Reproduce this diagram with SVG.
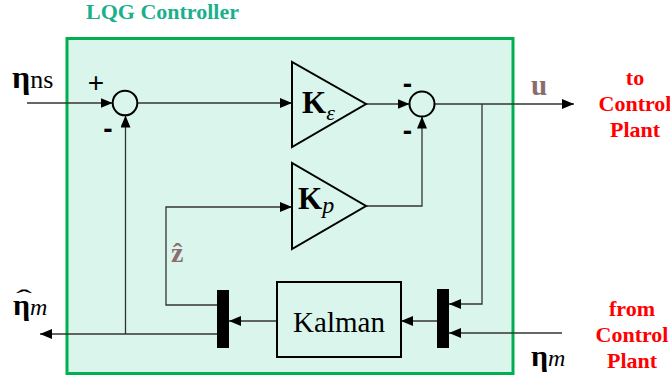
<svg xmlns="http://www.w3.org/2000/svg" width="670" height="381" viewBox="0 0 670 381">
  <defs>
    <marker id="arr" viewBox="0 0 12 10" refX="12" refY="5" markerWidth="12" markerHeight="10" markerUnits="userSpaceOnUse" orient="auto">
      <path d="M0,0 L12,5 L0,10 z" fill="#000"/>
    </marker>
  </defs>
  <style>
    .frame { fill: #D9F5EC; stroke: #00B050; stroke-width: 3; }
    .title { font-weight: bold; font-size: 22px; fill: #1BAF8E; }
    .conn { fill: none; stroke: #333; stroke-width: 1.3; }
    .conn path { marker-end: url(#arr); }
    .sum { fill: #D9F5EC; stroke: #000; stroke-width: 2; }
    .gain { fill: none; stroke: #000; stroke-width: 2; stroke-linejoin: miter; }
    .box { fill: none; stroke: #000; stroke-width: 2; }
    .bar { fill: #000; }
    .serif { fill: #000; }
    .bold { font-weight: bold; }
    .ital { font-style: italic; }
    .red { font-weight: bold; font-size: 22px; fill: #FF0000; text-anchor: middle; }
    .sign { fill: #000; text-anchor: middle; }
    .sig { font-weight: bold; fill: #8A6E6E; }
  </style>

  <rect class="frame" x="67" y="38.5" width="446" height="335"/>
  <text class="title" font-family="Liberation Serif, Times New Roman, serif" x="86" y="19">LQG Controller</text>

  <g id="connectors" class="conn">
    <path d="M27,103 H112.5"/>
    <path d="M137.5,103 H292"/>
    <path d="M366,104 H409.5"/>
    <path d="M434.5,104 H574"/>
    <path d="M482,104 V304 H449"/>
    <path d="M562,333 H449"/>
    <path d="M437,321 H401"/>
    <path d="M277,321 H229"/>
    <path d="M217,305 H166 V207 H292"/>
    <path d="M217,334 H40"/>
    <path d="M125.5,334 V115.5"/>
    <path d="M366,206 H422 V116.5"/>
  </g>

  <g id="sum1" font-family="Liberation Sans, Arial, sans-serif">
    <circle class="sum" cx="125" cy="103" r="12.3"/>
    <text class="sign" x="96" y="92" font-size="28">+</text>
    <text class="sign" x="108" y="138" font-size="28" font-weight="bold">-</text>
  </g>

  <g id="sum2" font-family="Liberation Sans, Arial, sans-serif">
    <circle class="sum" cx="422" cy="104" r="12.5"/>
    <text class="sign" x="407.5" y="93" font-size="28" font-weight="bold">-</text>
    <text class="sign" x="407.5" y="140" font-size="28" font-weight="bold">-</text>
  </g>

  <g id="gainKe" font-family="Liberation Serif, Times New Roman, serif">
    <polygon class="gain" points="292,62 292,147 366,104"/>
    <text class="serif bold" x="302" y="113" font-size="31">K<tspan class="ital" font-weight="normal" font-size="22" dy="7">ε</tspan></text>
  </g>

  <g id="gainKp" font-family="Liberation Serif, Times New Roman, serif">
    <polygon class="gain" points="292,163 292,249 366,206"/>
    <text class="serif bold" x="298" y="209" font-size="31">K<tspan class="ital" font-weight="normal" font-size="24" dy="4">p</tspan></text>
  </g>

  <g id="kalman" font-family="Liberation Serif, Times New Roman, serif">
    <rect class="box" x="277" y="282" width="124" height="75"/>
    <text class="serif" x="339" y="332" font-size="29" text-anchor="middle">Kalman</text>
  </g>

  <g id="mux1">
    <rect class="bar" x="217" y="290" width="12" height="58"/>
  </g>

  <g id="mux2">
    <rect class="bar" x="437" y="289" width="12" height="59"/>
  </g>

  <g id="labels" font-family="Liberation Serif, Times New Roman, serif">
    <text class="serif" x="12" y="88"><tspan class="bold" font-size="32">η</tspan><tspan font-size="26">ns</tspan></text>
    <text class="serif" x="13" y="315"><tspan class="bold" font-size="30">η</tspan><tspan class="ital" font-size="24">m</tspan></text>
    <text class="serif" transform="translate(24,306) scale(2,1)" x="0" y="0" font-size="24" text-anchor="middle">ˆ</text>
    <text class="serif" x="531" y="366"><tspan class="bold" font-size="30">η</tspan><tspan class="ital" font-size="24">m</tspan></text>
    <text class="sig" x="531" y="95" font-size="29">u</text>
    <text class="sig" x="171" y="262" font-size="28">ẑ</text>
    <text class="red" x="635" y="85">to</text>
    <text class="red" x="635" y="111">Control</text>
    <text class="red" x="635" y="137">Plant</text>
    <text class="red" x="632" y="316">from</text>
    <text class="red" x="632" y="342">Control</text>
    <text class="red" x="632" y="368">Plant</text>
  </g>
</svg>
